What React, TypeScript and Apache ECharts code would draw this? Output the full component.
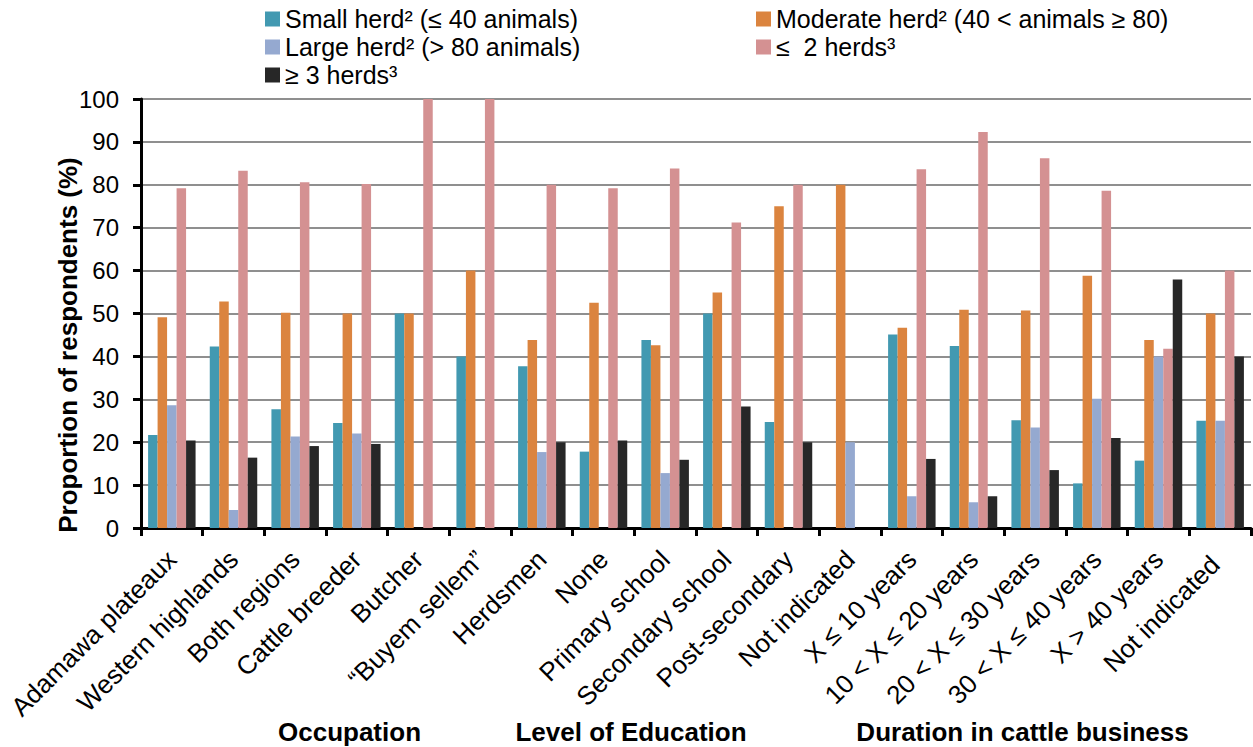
import React, { useEffect, useRef } from "react";
import * as echarts from "echarts";

const categories = [
  "Adamawa plateaux",
  "Western highlands",
  "Both regions",
  "Cattle breeder",
  "Butcher",
  "\u201cBuyem sellem\u201d",
  "Herdsmen",
  "None",
  "Primary school",
  "Secondary school",
  "Post-secondary",
  "Not indicated",
  "X \u2264 10 years",
  "10 < X \u2264 20 years",
  "20 < X \u2264 30 years",
  "30 < X \u2264 40 years",
  "X > 40 years",
  "Not indicated ",
];

const seriesNames = [
  "Small herd\u00b2 (\u2264 40 animals)",
  "Moderate herd\u00b2 (40 < animals \u2265 80)",
  "Large herd\u00b2 (> 80 animals)",
  "\u2264  2 herds\u00b3",
  "\u2265 3 herds\u00b3",
];

const smallHerd = [21.7, 42.3, 27.7, 24.5, 50, 40, 37.7, 17.8, 43.8, 50, 24.7, 0, 45.1, 42.4, 25.1, 10.4, 15.7, 25];
const moderateHerd = [49.1, 52.8, 50.2, 50, 50, 60, 43.8, 52.5, 42.6, 54.9, 75, 80, 46.7, 50.9, 50.7, 58.8, 43.8, 50];
const largeHerd = [28.6, 4.2, 21.3, 22.0, 0, 0, 17.7, 0, 12.8, 0, 0, 20, 7.4, 6.0, 23.4, 30.1, 40, 25];
const upTo2Herds = [79.2, 83.3, 80.6, 80.2, 100, 100, 80, 79.2, 83.8, 71.2, 80, 0, 83.6, 92.3, 86.2, 78.6, 41.8, 60];
const atLeast3Herds = [20.4, 16.4, 19.1, 19.6, 0, 0, 20, 20.4, 15.9, 28.3, 20, 0, 16.1, 7.4, 13.5, 21.0, 57.9, 40];

const groupTitles = ["Occupation", "Level of Education", "Duration in cattle business"];

const colors = ["#4299B1", "#DB843F", "#95A9D0", "#D49192", "#272727"];
const FONT = "'Liberation Sans', Arial, sans-serif";

export default function App() {
  const ref = useRef<HTMLDivElement>(null);
  useEffect(() => {
    if (!ref.current) return;
    const chart = echarts.init(ref.current, null, { renderer: "svg" });
    const values = [smallHerd, moderateHerd, largeHerd, upTo2Herds, atLeast3Herds];
    const legendText = { fontFamily: FONT, fontSize: 25, color: "#000", lineHeight: 28 };
    const legendBase = {
      orient: "vertical",
      top: 5,
      padding: 0,
      itemGap: 0,
      itemWidth: 15,
      itemHeight: 15,
      icon: "rect",
      textStyle: legendText,
      selectedMode: false,
    };
    chart.setOption({
      animation: false,
      backgroundColor: "#fff",
      textStyle: { fontFamily: FONT },
      legend: [
        { ...legendBase, data: [seriesNames[0], seriesNames[2], seriesNames[4]], left: 265 },
        { ...legendBase, data: [seriesNames[1], seriesNames[3]], left: 756 },
      ],
      grid: { left: 141, right: 2, top: 99, bottom: 219, containLabel: false },
      xAxis: {
        type: "category",
        data: categories,
        axisLine: { lineStyle: { color: "#000", width: 3 } },
        axisTick: { show: true, length: 8, lineStyle: { color: "#000", width: 3 }, interval: 0 },
        axisLabel: {
          interval: 0,
          rotate: 45,
          margin: 27,
          fontFamily: FONT,
          fontSize: 26,
          color: "#000",
        },
      },
      yAxis: {
        type: "value",
        min: 0,
        max: 100,
        interval: 10,
        axisLine: { show: true, lineStyle: { color: "#000", width: 3 } },
        axisTick: { show: true, length: 8, lineStyle: { color: "#000", width: 3 } },
        axisLabel: { fontFamily: FONT, fontSize: 24, color: "#000", margin: 22 },
        splitLine: { lineStyle: { color: "#8f8f8f", width: 2 } },
      },
      series: values.map((v, i) => ({
        name: seriesNames[i],
        type: "bar",
        data: v,
        barGap: "0%",
        barCategoryGap: "23%",
        itemStyle: { color: colors[i] },
      })),
      graphic: [
        {
          type: "text",
          x: 68,
          y: 345,
          rotation: Math.PI / 2,
          style: {
            text: "Proportion of respondents (%)",
            fontFamily: FONT,
            fontSize: 26,
            fontWeight: "bold",
            fill: "#000",
            textAlign: "center",
            textVerticalAlign: "middle",
          },
        },
        ...[349.5, 631, 1022.5].map((x, i) => ({
          type: "text",
          x,
          y: 732,
          style: {
            text: groupTitles[i],
            fontFamily: FONT,
            fontSize: 26,
            fontWeight: "bold",
            fill: "#000",
            textAlign: "center",
            textVerticalAlign: "middle",
          },
        })),
      ],
    });
    return () => chart.dispose();
  }, []);
  return (
    <div
      ref={ref}
      style={{ position: "fixed", left: 0, top: 0, width: 1253, height: 747, background: "#fff" }}
    />
  );
}
